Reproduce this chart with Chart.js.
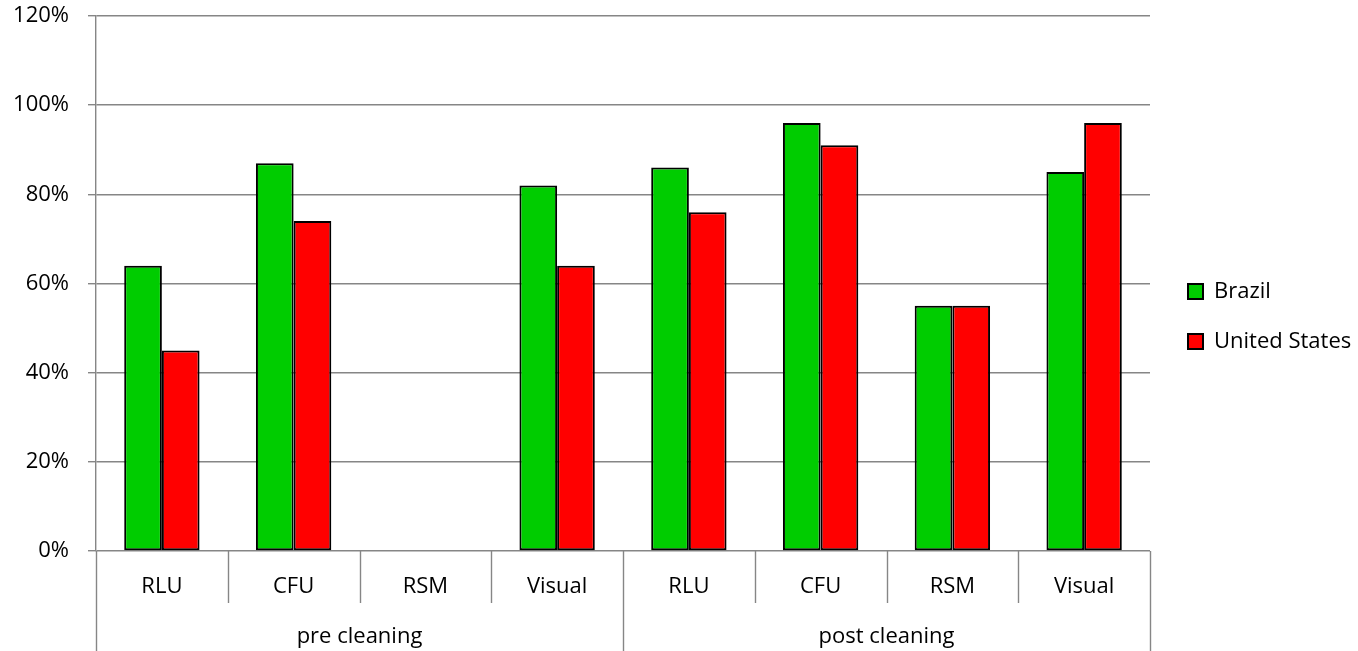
<!DOCTYPE html>
<html>
<head>
<meta charset="utf-8">
<title>Cleaning assessment – Brazil vs United States</title>
<script src="https://cdn.jsdelivr.net/npm/chart.js@4/dist/chart.umd.min.js"></script>
<style>
  html, body { margin: 0; padding: 0; background: #ffffff; }
  #wrap { width: 1358px; height: 651px; position: relative; }
</style>
</head>
<body>
<div id="wrap"><canvas id="chart" width="1358" height="651"></canvas></div>
<script>
// Methods, repeated for each cleaning stage
const categories = ['RLU', 'CFU', 'RSM', 'Visual', 'RLU', 'CFU', 'RSM', 'Visual'];
const groups = ['pre cleaning', 'post cleaning'];

// Share of surfaces passing (%), null where no result exists
const brazil = [64, 87, null, 82, 86, 96, 55, 85];
const unitedStates = [45, 74, null, 64, 76, 91, 55, 96];

// Y axis ticks (%)
const yTicks = [0, 20, 40, 60, 80, 100, 120];

const FONT = { family: "'Open Sans', 'DejaVu Sans', sans-serif", size: 22 };
const GRID = '#868686';
const GRID_W = 1.4;

// Vertical dividers below the plot: short ones between methods,
// long ones between the two cleaning stages.
const dividers = {
  id: 'dividers',
  afterDraw(chart) {
    const x = chart.scales.x;
    const ctx = chart.ctx;
    const n = categories.length;
    const perGroup = n / groups.length;
    const step = x.getPixelForValue(1) - x.getPixelForValue(0);
    ctx.save();
    ctx.strokeStyle = GRID;
    ctx.lineWidth = GRID_W;
    for (let i = 0; i <= n; i++) {
      const px = Math.round(x.getPixelForValue(0) - step / 2 + i * step) + 0.5;
      const bottom = (i % perGroup === 0) ? chart.height : x.bottom;
      ctx.beginPath();
      ctx.moveTo(px, x.top);
      ctx.lineTo(px, bottom);
      ctx.stroke();
    }
    ctx.restore();
  }
};

// Legend sizing and placement
const legendPlacement = {
  id: 'legendPlacement',
  beforeInit(chart) {
    const fit = chart.legend.fit;
    chart.legend.fit = function () {
      fit.call(this);
      this.width = 208;
    };
  },
  afterLayout(chart) {
    const lg = chart.legend;
    lg.left += 10;
    lg.right += 10;
    lg.top -= 17;
    lg.bottom -= 17;
  }
};

new Chart(document.getElementById('chart'), {
  type: 'bar',
  data: {
    labels: categories,
    datasets: [
      {
        label: 'Brazil',
        data: brazil,
        backgroundColor: '#00cc00',
        borderColor: '#000000',
        borderWidth: 2,
        borderSkipped: false
      },
      {
        label: 'United States',
        data: unitedStates,
        backgroundColor: '#ff0000',
        borderColor: '#000000',
        borderWidth: 2,
        borderSkipped: false
      }
    ]
  },
  options: {
    responsive: false,
    animation: false,
    devicePixelRatio: 1,
    layout: { padding: { top: 16, left: 0, right: 0, bottom: 0 } },
    datasets: {
      bar: { categoryPercentage: 0.572, barPercentage: 1.0 }
    },
    scales: {
      x: {
        type: 'category',
        offset: true,
        grid: { display: false, drawTicks: false },
        border: { display: false },
        ticks: {
          autoSkip: false, maxRotation: 0, minRotation: 0,
          padding: 23, color: '#000000', font: FONT
        },
        afterFit(scale) { scale.height = 52; }
      },
      x2: {
        type: 'category',
        labels: groups,
        position: 'bottom',
        offset: true,
        grid: { display: false, drawTicks: false },
        border: { display: false },
        ticks: {
          autoSkip: false, maxRotation: 0, minRotation: 0,
          padding: 21, color: '#000000', font: FONT
        },
        afterFit(scale) { scale.height = 48; }
      },
      y: {
        min: 0,
        max: 120,
        afterBuildTicks(scale) { scale.ticks = yTicks.map(v => ({ value: v })); },
        grid: { color: GRID, lineWidth: GRID_W, tickLength: 8, drawTicks: true },
        border: { display: true, color: GRID, width: GRID_W },
        ticks: {
          padding: 19, color: '#000000', font: FONT,
          callback: v => v + '%'
        },
        afterFit(scale) {
          scale.width = 96;
          scale.paddingTop = 0;
          scale.paddingBottom = 0;
        }
      }
    },
    plugins: {
      legend: {
        position: 'right',
        labels: {
          boxWidth: 15, boxHeight: 15, padding: 28,
          color: '#000000', font: FONT
        }
      },
      tooltip: { enabled: false },
      title: { display: false }
    }
  },
  plugins: [dividers, legendPlacement]
});
</script>
</body>
</html>
